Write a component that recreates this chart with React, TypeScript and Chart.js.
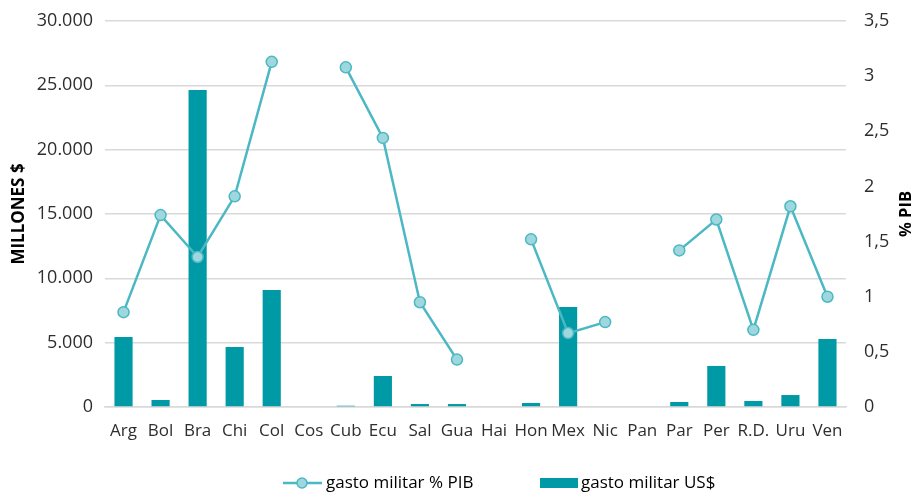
import React, { useEffect, useRef } from "react";
import { Chart, registerables } from "chart.js";

Chart.register(...registerables);

const categories = ["Arg", "Bol", "Bra", "Chi", "Col", "Cos", "Cub", "Ecu", "Sal", "Gua", "Hai", "Hon", "Mex", "Nic", "Pan", "Par", "Per", "R.D.", "Uru", "Ven"];
const gastoUSD = [5440, 545, 24630, 4660, 9090, 0, 100, 2410, 230, 230, 0, 310, 7770, 60, 0, 390, 3190, 470, 930, 5280];
const gastoPIB: (number | null)[] = [0.86, 1.74, 1.36, 1.91, 3.13, null, 3.08, 2.44, 0.95, 0.43, null, 1.52, 0.67, 0.77, null, 1.42, 1.70, 0.70, 1.82, 1.0];
const leftTicks = [0, 5000, 10000, 15000, 20000, 25000, 30000];
const rightTicks = [0, 0.5, 1, 1.5, 2, 2.5, 3, 3.5];

const BAR = "#0099A6";
const LINE = "#4BB8C4";
const POINT = "#9ED8DE";
const TXT = "#2e2e2e";
const FONT = '"Open Sans", sans-serif';

const fmtThousands = (v: number) => {
  const s = Math.round(v).toString();
  return s.replace(/\B(?=(\d{3})+(?!\d))/g, ".");
};
const fmtDec = (v: number) => String(v).replace(".", ",");

export default function App() {
  const ref = useRef<HTMLCanvasElement>(null);
  useEffect(() => {
    const extra = {
      id: "extra",
      afterDraw(chart: any) {
        const ctx = chart.ctx;
        ctx.save();
        const ca = chart.chartArea;
        ctx.fillStyle = "#000";
        ctx.font = `bold 16.5px ${FONT}`;
        ctx.textAlign = "center";
        ctx.textBaseline = "middle";
        ctx.translate(906, (ca.top + ca.bottom) / 2);
        ctx.rotate(-Math.PI / 2);
        ctx.fillText("% PIB", 0, 0);
        ctx.restore();

        ctx.save();
        const y = 483;
        ctx.font = `17px ${FONT}`;
        ctx.textBaseline = "middle";
        ctx.textAlign = "left";
        ctx.strokeStyle = LINE;
        ctx.lineWidth = 2.5;
        ctx.beginPath();
        ctx.moveTo(283, y);
        ctx.lineTo(322, y);
        ctx.stroke();
        ctx.beginPath();
        ctx.arc(302, y, 5, 0, Math.PI * 2);
        ctx.fillStyle = POINT;
        ctx.fill();
        ctx.lineWidth = 1.5;
        ctx.stroke();
        ctx.fillStyle = "#000";
        ctx.fillText("gasto militar % PIB", 326, y);
        ctx.fillStyle = BAR;
        ctx.fillRect(540, y - 5, 38, 10);
        ctx.fillStyle = "#000";
        ctx.fillText("gasto militar US$", 581, y);
        ctx.restore();
      },
    };
    const fixPad = (s: any) => { s.paddingTop = 0; s.paddingBottom = 0; };
    const chart = new Chart(ref.current!, {
      type: "bar",
      data: {
        labels: categories,
        datasets: [
          {
            type: "line",
            label: "gasto militar % PIB",
            data: gastoPIB,
            yAxisID: "y1",
            borderColor: LINE,
            borderWidth: 2.5,
            backgroundColor: POINT,
            pointBackgroundColor: POINT,
            pointBorderColor: LINE,
            pointBorderWidth: 1.5,
            pointRadius: 5.5,
            spanGaps: false,
            tension: 0,
            order: 0,
          } as any,
          {
            type: "bar",
            label: "gasto militar US$",
            data: gastoUSD,
            yAxisID: "y",
            backgroundColor: BAR,
            barPercentage: 0.49,
            categoryPercentage: 1,
            order: 1,
          },
        ],
      },
      options: {
        animation: false,
        responsive: true,
        maintainAspectRatio: false,
        layout: { padding: { top: 21, bottom: 50, left: 0, right: 0 } },
        plugins: { legend: { display: false }, tooltip: { enabled: false } },
        scales: {
          x: {
            grid: { display: false },
            border: { display: true, color: "#d9d9d9", width: 1.5 },
            ticks: { color: TXT, font: { family: FONT, size: 17 }, maxRotation: 0, autoSkip: false, padding: 6 },
            afterFit: (s: any) => { s.height = 38; s.paddingLeft = 0; s.paddingRight = 0; },
          },
          y: {
            position: "left",
            min: 0,
            max: 30000,
            afterBuildTicks: (s: any) => { s.ticks = leftTicks.map((v) => ({ value: v })); },
            ticks: { color: TXT, font: { family: FONT, size: 18 }, padding: 12, callback: (v: any) => fmtThousands(Number(v)) },
            grid: { color: "#d9d9d9", lineWidth: 1.5, drawTicks: false },
            border: { display: false },
            title: { display: true, text: "MILLONES $", color: "#000", font: { family: FONT, size: 17, weight: "bold" }, padding: { top: 9, bottom: 0 } },
            afterFit: (s: any) => { s.width = 105; fixPad(s); },
          },
          y1: {
            position: "right",
            min: 0,
            max: 3.5,
            afterBuildTicks: (s: any) => { s.ticks = rightTicks.map((v) => ({ value: v })); },
            ticks: { color: TXT, font: { family: FONT, size: 18 }, padding: 18, callback: (v: any) => fmtDec(Number(v)) },
            grid: { display: false, drawTicks: false },
            border: { display: false },
            afterFit: (s: any) => { s.width = 71; fixPad(s); },
          },
        },
      },
      plugins: [extra],
    });
    return () => chart.destroy();
  }, []);
  return (
    <div style={{ position: "fixed", left: 0, top: 0, width: 917, height: 495, background: "#fff" }}>
      <canvas ref={ref} />
    </div>
  );
}
